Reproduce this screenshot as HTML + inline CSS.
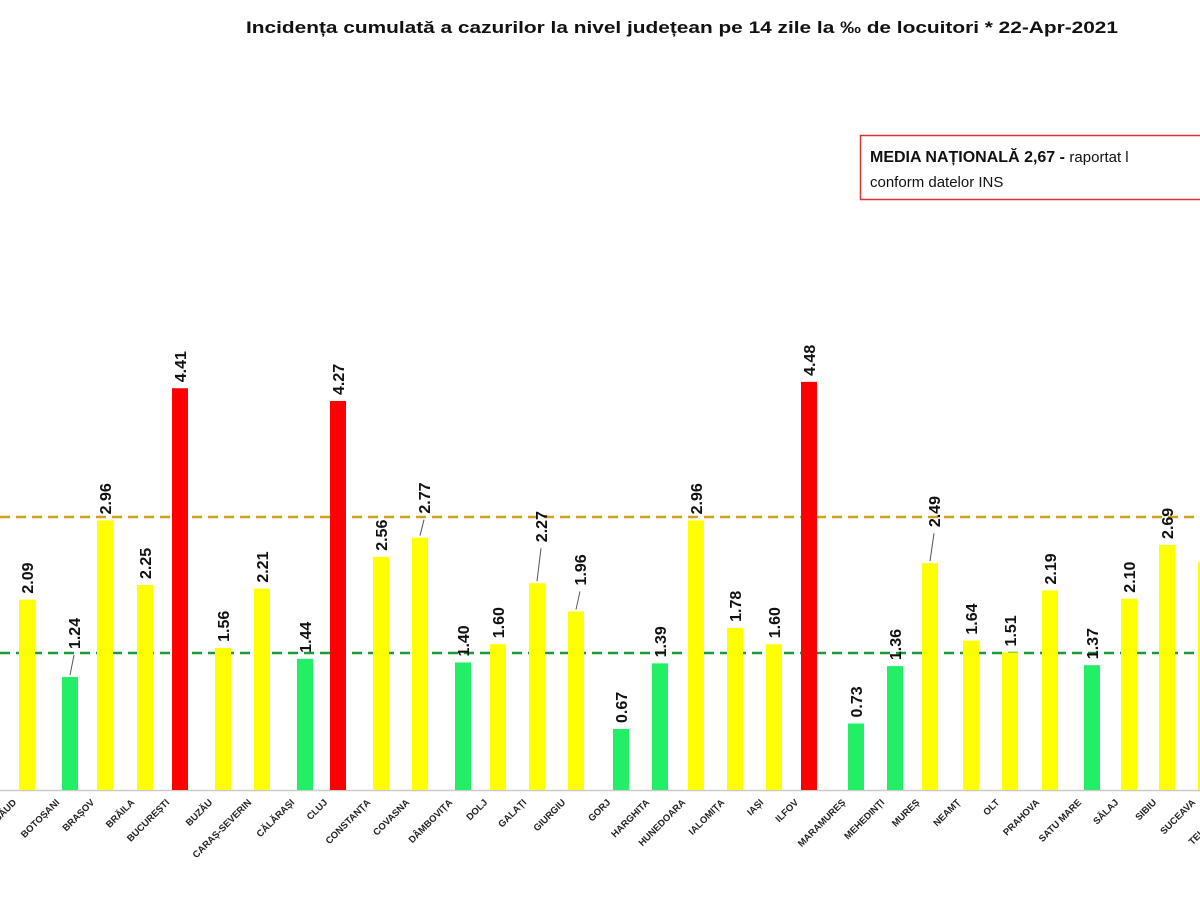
<!DOCTYPE html>
<html><head><meta charset="utf-8"><style>
body{margin:0;background:#fff;}
svg text{font-family:"Liberation Sans",sans-serif;}
</style></head><body>
<svg width="1200" height="900" xmlns="http://www.w3.org/2000/svg">
<text x="246" y="33" textLength="872" lengthAdjust="spacingAndGlyphs" font-size="16.5" font-weight="bold" fill="#111">Incidența cumulată a cazurilor la nivel județean pe 14 zile   la ‰ de locuitori  *   22-Apr-2021</text>
<rect x="860.5" y="135.5" width="360" height="64" fill="#fff" stroke="#d33" stroke-width="1.5"/>
<text x="870" y="162" font-size="16" fill="#111"><tspan font-weight="bold">MEDIA NAȚIONALĂ 2,67 - </tspan><tspan font-size="15">raportat l</tspan></text>
<text x="870" y="187" font-size="15" fill="#111">conform datelor INS</text>
<line x1="0" y1="517" x2="1200" y2="517" stroke="#d4a017" stroke-width="2.5" stroke-dasharray="10,6"/>
<line x1="0" y1="653" x2="1200" y2="653" stroke="#1a9a3a" stroke-width="2.5" stroke-dasharray="10,6"/>
<line x1="0" y1="790.5" x2="1200" y2="790.5" stroke="#ccc" stroke-width="1.5"/>
<g id="bars"></g>
</svg>
<script>
const d=[["BISTRIȚA-NĂSĂUD",27,2.09],["BOTOȘANI",70,1.24],["BRAȘOV",105,2.96],["BRĂILA",145,2.25],["BUCUREȘTI",180,4.41],["BUZĂU",223,1.56],["CARAȘ-SEVERIN",262,2.21],["CĂLĂRAȘI",305,1.44],["CLUJ",338,4.27],["CONSTANȚA",381,2.56],["COVASNA",420,2.77],["DÂMBOVIȚA",463,1.40],["DOLJ",498,1.60],["GALAȚI",537,2.27],["GIURGIU",576,1.96],["GORJ",621,0.67],["HARGHITA",660,1.39],["HUNEDOARA",696,2.96],["IALOMIȚA",735,1.78],["IAȘI",774,1.60],["ILFOV",809,4.48],["MARAMUREȘ",856,0.73],["MEHEDINȚI",895,1.36],["MUREȘ",930,2.49],["NEAMȚ",971,1.64],["OLT",1010,1.51],["PRAHOVA",1050,2.19],["SATU MARE",1092,1.37],["SĂLAJ",1129,2.10],["SIBIU",1167,2.69],["SUCEAVA",1206,2.5],["TELEORMAN",1245,2.0]];
const lift={"BOTOȘANI":22,"GALAȚI":35,"GIURGIU":20,"MUREȘ":30,"COVASNA":18};
let s="";
for(const [n,x,v] of d){
 const h=v*91.1,y=790-h;
 const c=v>=4?"#ff0000":v>=1.5?"#ffff00":"#22ee66";
 s+=`<rect x="${x-8}" y="${y}" width="16" height="${h}" fill="${c}"/>`;
 const l=lift[n]||0;
 if(l) s+=`<line x1="${x}" y1="${y-2}" x2="${x+4}" y2="${y-l}" stroke="#555" stroke-width="1"/>`;
 s+=`<text transform="translate(${x+6+(l?4:0)},${y-6-l}) rotate(-90)" font-size="16" font-weight="bold" fill="#111">${v.toFixed(2)}</text>`;
 s+=`<text transform="translate(${x-10},803) rotate(-45)" text-anchor="end" font-size="9.5" font-weight="bold" fill="#222">${n}</text>`;
}
document.getElementById("bars").innerHTML=s;
</script>
</body></html>
